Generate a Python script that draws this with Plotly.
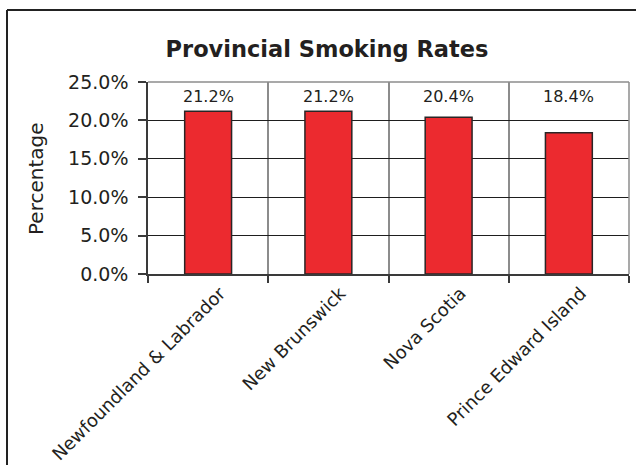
import plotly.graph_objects as go

# ---- data ----
provinces = ["Newfoundland & Labrador", "New Brunswick", "Nova Scotia", "Prince Edward Island"]
smoking_rates = [21.2, 21.2, 20.4, 18.4]
y_ticks = [0, 5, 10, 15, 20, 25]
title_text = "Provincial Smoking Rates"
y_title = "Percentage"

W, H = 636, 465
ML, MR, MT, MB = 148, 7, 82, 191
PW = W - ML - MR
PH = H - MT - MB


def px_x(px):
    return (px - ML) / PW


def px_y(py):
    return (H - MB - py) / PH


FONT = "DejaVu Sans, Liberation Sans, Arial, sans-serif"
TXT = "#231F20"

fig = go.Figure()
fig.add_trace(go.Bar(
    x=provinces,
    y=smoking_rates,
    marker=dict(color="#EC2A2F", line=dict(color="#2A2526", width=1.5)),
    width=0.39,
    hoverinfo="x+y",
))

# data labels along the top of the plot area
for p, v in zip(provinces, smoking_rates):
    fig.add_annotation(x=p, y=23.1, xref="x", yref="y", text=f"{v:.1f}%",
                       showarrow=False, font=dict(size=16, color=TXT, family=FONT),
                       xanchor="center", yanchor="middle")

# y axis title
fig.add_annotation(x=px_x(36), y=px_y(179), xref="paper", yref="paper", text=y_title,
                   textangle=-90, showarrow=False,
                   font=dict(size=20, color=TXT, family=FONT),
                   xanchor="center", yanchor="middle")

shapes = [
    # plot area top and right border (grey)
    dict(type="line", xref="paper", yref="paper", x0=0, x1=1, y0=1, y1=1,
         line=dict(color="#8C8C8C", width=1.5), layer="above"),
    dict(type="line", xref="paper", yref="paper", x0=1, x1=1, y0=0, y1=1,
         line=dict(color="#8C8C8C", width=1.5), layer="above"),
    # outer chart border (left and top visible)
    dict(type="line", xref="paper", yref="paper", x0=px_x(7), x1=px_x(W + 5),
         y0=px_y(10), y1=px_y(10), line=dict(color="#222222", width=2)),
    dict(type="line", xref="paper", yref="paper", x0=px_x(7), x1=px_x(7),
         y0=px_y(10), y1=px_y(H + 5), line=dict(color="#222222", width=2)),
]

fig.update_layout(
    width=W, height=H,
    margin=dict(l=ML, r=MR, t=MT, b=MB, autoexpand=False),
    paper_bgcolor="white", plot_bgcolor="white",
    showlegend=False,
    title=dict(text=f"<b>{title_text}</b>", x=327 / W, xref="container", xanchor="center",
               y=1 - 49 / H, yref="container", yanchor="middle",
               font=dict(size=22.5, color=TXT, family=FONT)),
    shapes=shapes,
    font=dict(family=FONT, color=TXT),
)

fig.update_xaxes(
    type="category",
    tickson="boundaries",
    automargin=False,
    showgrid=True, gridcolor="#8C8C8C", gridwidth=1.5,
    showline=True, linecolor="#3A3A3A", linewidth=1.5,
    ticks="outside", ticklen=7, tickcolor="#3A3A3A", tickwidth=1.5,
    tickangle=-45,
    ticklabelshift=12,
    tickfont=dict(size=18, color=TXT, family=FONT),
    range=[-0.5, 3.5],
)

fig.update_yaxes(
    range=[0, 25],
    automargin=False,
    tickvals=y_ticks,
    ticktext=[f"{t:.1f}%" for t in y_ticks],
    showgrid=True, gridcolor="#1E1E1E", gridwidth=1,
    zeroline=False,
    showline=True, linecolor="#3A3A3A", linewidth=1.5,
    ticks="outside", ticklen=8, tickcolor="#3A3A3A", tickwidth=1.5,
    ticklabelstandoff=6,
    tickfont=dict(size=19, color=TXT, family=FONT),
)

fig.write_html("out.html", config={"displayModeBar": False},
               post_script="document.body.style.margin='0';")
